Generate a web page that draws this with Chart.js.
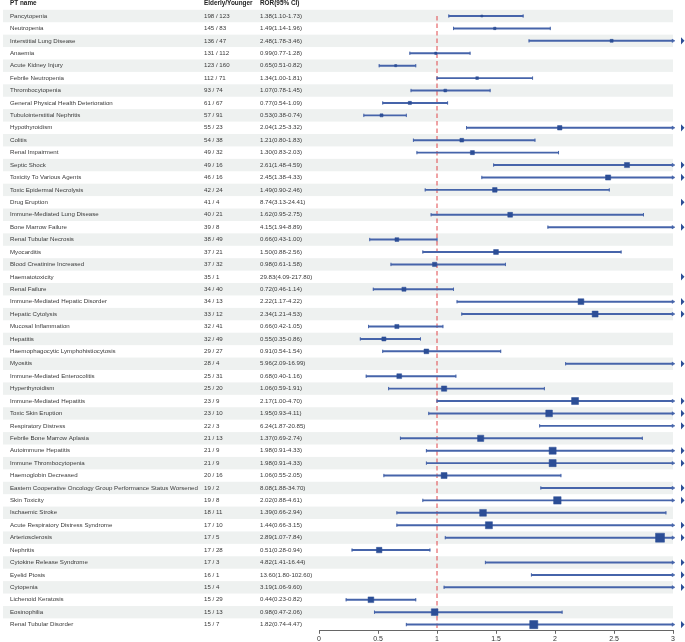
<!DOCTYPE html>
<html>
<head>
<meta charset="utf-8">
<script src="https://cdn.jsdelivr.net/npm/chart.js@4/dist/chart.umd.min.js"></script>
<style>
  html, body { margin: 0; padding: 0; background: #fff; }
  #wrap { width: 685px; height: 642px; }
</style>
</head>
<body>
<div id="wrap"><canvas id="forest" width="685" height="642"></canvas></div>
<script>
const ptNames = [
  'Pancytopenia', 'Neutropenia', 'Interstitial Lung Disease', 'Anaemia', 'Acute Kidney Injury',
  'Febrile Neutropenia', 'Thrombocytopenia', 'General Physical Health Deterioration',
  'Tubulointerstitial Nephritis', 'Hypothyroidism', 'Colitis', 'Renal Impairment', 'Septic Shock',
  'Toxicity To Various Agents', 'Toxic Epidermal Necrolysis', 'Drug Eruption',
  'Immune-Mediated Lung Disease', 'Bone Marrow Failure', 'Renal Tubular Necrosis', 'Myocarditis',
  'Blood Creatinine Increased', 'Haematotoxicity', 'Renal Failure', 'Immune-Mediated Hepatic Disorder',
  'Hepatic Cytolysis', 'Mucosal Inflammation', 'Hepatitis', 'Haemophagocytic Lymphohistiocytosis',
  'Myositis', 'Immune-Mediated Enterocolitis', 'Hyperthyroidism', 'Immune-Mediated Hepatitis',
  'Toxic Skin Eruption', 'Respiratory Distress', 'Febrile Bone Marrow Aplasia', 'Autoimmune Hepatitis',
  'Immune Thrombocytopenia', 'Haemoglobin Decreased',
  'Eastern Cooperative Oncology Group Performance Status Worsened', 'Skin Toxicity',
  'Ischaemic Stroke', 'Acute Respiratory Distress Syndrome', 'Arteriosclerosis', 'Nephritis',
  'Cytokine Release Syndrome', 'Eyelid Ptosis', 'Cytopenia', 'Lichenoid Keratosis', 'Eosinophilia',
  'Renal Tubular Disorder'
];
const elderly = [198, 145, 136, 131, 123, 112, 93, 61, 57, 55, 54, 49, 49, 46, 42, 41, 40, 39, 38, 37,
  37, 35, 34, 34, 33, 32, 32, 29, 28, 25, 25, 23, 23, 22, 21, 21, 21, 20, 19, 19, 18, 17, 17, 17, 17,
  16, 15, 15, 15, 15];
const younger = [123, 83, 47, 112, 160, 71, 74, 67, 91, 23, 38, 32, 16, 16, 24, 4, 21, 8, 49, 21,
  32, 1, 40, 13, 12, 41, 49, 27, 4, 31, 20, 9, 10, 3, 13, 9, 9, 16, 2, 8, 11, 10, 5, 28, 3,
  1, 4, 29, 13, 7];
const ror = [1.38, 1.49, 2.48, 0.99, 0.65, 1.34, 1.07, 0.77, 0.53, 2.04, 1.21, 1.30, 2.61, 2.45, 1.49,
  8.74, 1.62, 4.15, 0.66, 1.50, 0.98, 29.83, 0.72, 2.22, 2.34, 0.66, 0.55, 0.91, 5.96, 0.68, 1.06,
  2.17, 1.95, 6.24, 1.37, 1.98, 1.98, 1.06, 8.08, 2.02, 1.39, 1.44, 2.89, 0.51, 4.82, 13.60, 3.19,
  0.44, 0.98, 1.82];
const lower = [1.10, 1.14, 1.78, 0.77, 0.51, 1.00, 0.78, 0.54, 0.38, 1.25, 0.80, 0.83, 1.48, 1.38, 0.90,
  3.13, 0.95, 1.94, 0.43, 0.88, 0.61, 4.09, 0.46, 1.17, 1.21, 0.42, 0.35, 0.54, 2.09, 0.40, 0.59,
  1.00, 0.93, 1.87, 0.69, 0.91, 0.91, 0.55, 1.88, 0.88, 0.66, 0.66, 1.07, 0.28, 1.41, 1.80, 1.06,
  0.23, 0.47, 0.74];
const upper = [1.73, 1.96, 3.46, 1.28, 0.82, 1.81, 1.45, 1.09, 0.74, 3.32, 1.83, 2.03, 4.59, 4.33, 2.46,
  24.41, 2.75, 8.89, 1.00, 2.56, 1.58, 217.80, 1.14, 4.22, 4.53, 1.05, 0.86, 1.54, 16.99, 1.16, 1.91,
  4.70, 4.11, 20.85, 2.74, 4.33, 4.33, 2.05, 34.70, 4.61, 2.94, 3.15, 7.84, 0.94, 16.44, 102.60, 9.60,
  0.82, 2.06, 4.47];
const xTicks = [0, 0.5, 1, 1.5, 2, 2.5, 3];

const X_MIN = 0, X_MAX = 3;
const LINE_COLOR = '#4664aa';
const BOX_COLOR = '#2c4e96';
const FONT = '"Liberation Sans", Arial, sans-serif';

// CI segments, clipped to the axis range
const ciBars = ptNames.map((n, i) => lower[i] < X_MAX ? [Math.max(lower[i], X_MIN), Math.min(upper[i], X_MAX)] : null);
// point estimates within range; box size follows the CI width on the log scale
const boxes = [], boxRadius = [];
ptNames.forEach((n, i) => {
  if (ror[i] <= X_MAX) {
    boxes.push({ x: ror[i], y: n });
    const se = Math.log(upper[i] / lower[i]) / 3.92;
    boxRadius.push(Math.max(1.4, 12.5 * se));
  }
});
const caps = [];
ptNames.forEach((n, i) => {
  if (lower[i] < X_MAX) caps.push({ x: lower[i], y: n });
  if (upper[i] <= X_MAX) caps.push({ x: upper[i], y: n });
});
const inlineArrows = ptNames.filter((n, i) => upper[i] > X_MAX && lower[i] < X_MAX).map(n => ({ x: X_MAX, y: n }));

const tablePlugin = {
  id: 'table',
  beforeDatasetsDraw(chart) {
    const { ctx, chartArea, scales } = chart;
    const y = scales.y;
    const band = y.getPixelForValue(1) - y.getPixelForValue(0);
    ctx.save();
    // zebra stripes
    ctx.fillStyle = '#eef1f0';
    ptNames.forEach((n, i) => {
      if (i % 2 === 0) {
        const cy = y.getPixelForValue(i);
        ctx.fillRect(3, cy - band / 2, chartArea.right - 3, band);
      }
    });
    // reference line at ROR = 1
    const x1 = scales.x.getPixelForValue(1);
    ctx.strokeStyle = '#e0474a';
    ctx.lineWidth = 1;
    ctx.setLineDash([4.5, 3]);
    ctx.beginPath();
    ctx.moveTo(x1, y.getPixelForValue(0));
    ctx.lineTo(x1, chartArea.bottom);
    ctx.stroke();
    ctx.setLineDash([]);
    // text columns
    ctx.textBaseline = 'middle';
    ctx.fillStyle = '#222';
    ctx.font = 'bold 6.4px ' + FONT;
    const hy = y.getPixelForValue(0) - band;
    ctx.fillText('PT name', 10, hy);
    ctx.fillText('Elderly/Younger', 204, hy);
    ctx.fillText('ROR(95% CI)', 260, hy);
    ctx.fillStyle = '#3a3a3a';
    ctx.font = '6.15px ' + FONT;
    ptNames.forEach((n, i) => {
      const cy = y.getPixelForValue(i);
      ctx.fillText(n, 10, cy);
      ctx.fillText(elderly[i] + ' / ' + younger[i], 204, cy);
      ctx.fillText(ror[i].toFixed(2) + '(' + lower[i].toFixed(2) + '-' + upper[i].toFixed(2) + ')', 260, cy);
    });
    ctx.restore();
  },
  afterDatasetsDraw(chart) {
    // off-scale markers to the right of the axis for CIs running past the max
    const { ctx, scales } = chart;
    const xr = scales.x.getPixelForValue(X_MAX);
    ctx.save();
    ctx.fillStyle = BOX_COLOR;
    ptNames.forEach((n, i) => {
      if (upper[i] > X_MAX) {
        const cy = scales.y.getPixelForValue(i);
        ctx.beginPath();
        ctx.moveTo(xr + 8, cy - 3.6);
        ctx.lineTo(xr + 11.5, cy);
        ctx.lineTo(xr + 8, cy + 3.6);
        ctx.closePath();
        ctx.fill();
      }
    });
    ctx.restore();
  }
};

new Chart(document.getElementById('forest'), {
  type: 'bar',
  data: {
    labels: ptNames,
    datasets: [
      {
        type: 'bar',
        data: ciBars,
        backgroundColor: LINE_COLOR,
        barThickness: 1.3,
        borderWidth: 0,
        order: 4
      },
      {
        type: 'scatter',
        data: caps,
        pointStyle: 'line',
        rotation: 90,
        radius: 1.7,
        borderColor: LINE_COLOR,
        borderWidth: 1,
        order: 3
      },
      {
        type: 'scatter',
        data: inlineArrows,
        pointStyle: 'triangle',
        rotation: 90,
        radius: 2,
        backgroundColor: LINE_COLOR,
        borderColor: LINE_COLOR,
        borderWidth: 0.5,
        clip: false,
        order: 2
      },
      {
        type: 'scatter',
        data: boxes,
        pointStyle: 'rect',
        radius: boxRadius,
        backgroundColor: BOX_COLOR,
        borderColor: BOX_COLOR,
        borderWidth: 0.5,
        order: 1
      }
    ]
  },
  options: {
    responsive: false,
    animation: false,
    indexAxis: 'y',
    layout: { padding: { left: 319, right: 12, top: 9.8, bottom: 0 } },
    plugins: { legend: { display: false }, tooltip: { enabled: false } },
    scales: {
      x: {
        type: 'linear',
        min: X_MIN,
        max: X_MAX,
        afterBuildTicks: (scale) => { scale.ticks = xTicks.map(v => ({ value: v })); },
        afterFit: (scale) => { scale.height = 11.2; },
        grid: { drawOnChartArea: false, drawTicks: true, tickLength: 3, color: '#666' },
        border: { display: true, color: '#666', width: 1 },
        ticks: { padding: 1, color: '#333', font: { size: 7, family: FONT }, callback: (v) => String(v) }
      },
      y: {
        type: 'category',
        labels: ptNames,
        offset: true,
        display: false
      }
    }
  },
  plugins: [tablePlugin]
});
</script>
</body>
</html>
